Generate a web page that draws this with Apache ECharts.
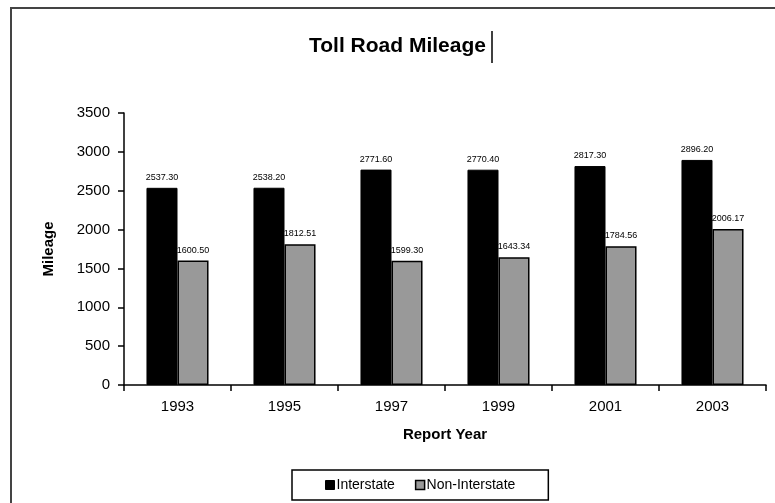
<!DOCTYPE html>
<html><head><meta charset="utf-8">
<script src="https://cdn.jsdelivr.net/npm/echarts@6/dist/echarts.min.js"></script>
<style>html,body{margin:0;padding:0;background:#fff}#c{width:775px;height:503px}</style>
</head><body><div id="c"></div>
<script>
const categories = ['1993','1995','1997','1999','2001','2003'];
const interstate = [2537.30, 2538.20, 2771.60, 2770.40, 2817.30, 2896.20];
const nonInterstate = [1600.50, 1812.51, 1599.30, 1643.34, 1784.56, 2006.17];
const yTicks = [0, 500, 1000, 1500, 2000, 2500, 3000, 3500];

const chart = echarts.init(document.getElementById('c'));
const font = 'Arial, "Liberation Sans", sans-serif';
const lbl = {show:true, position:'top', fontSize:9, color:'#000', fontFamily:font, distance:6,
  formatter: p => p.value.toFixed(2)};
chart.setOption({
  animation:false,
  title:{text:'Toll Road Mileage', left:304, top:31,
    textStyle:{fontSize:21, fontWeight:'bold', color:'#000', fontFamily:font}},
  graphic:[
    {type:'polyline', shape:{points:[[11,520],[11,8],[790,8]]}, style:{stroke:'#444', lineWidth:2, fill:null}},
    {type:'line', shape:{x1:492,y1:31,x2:492,y2:63}, style:{stroke:'#000', lineWidth:1.5}}
  ],
  legend:{bottom:3, left:292, itemWidth:9, itemHeight:9, itemGap:20, icon:'rect',
    padding:[8,33,8,33], borderColor:'#000', borderWidth:1.5,
    textStyle:{fontSize:14, color:'#000', fontFamily:font, padding:[0,0,0,-3]},
    data:[{name:'Interstate', itemStyle:{borderColor:'#000', borderWidth:1}},
          {name:'Non-Interstate', itemStyle:{borderColor:'#000', borderWidth:1.5}}]},
  grid:{left:124, right:9, top:113, bottom:118},
  xAxis:{type:'category', data:categories, name:'Report Year', nameLocation:'middle', nameGap:42,
    nameTextStyle:{fontSize:15, fontWeight:'bold', color:'#000', fontFamily:font},
    axisLine:{lineStyle:{color:'#000', width:1.5}},
    axisTick:{show:true, length:6, lineStyle:{color:'#000', width:1.5}},
    axisLabel:{fontSize:15, color:'#000', fontFamily:font, margin:14}},
  yAxis:{type:'value', min:yTicks[0], max:yTicks[yTicks.length-1], interval:500,
    name:'Mileage', nameLocation:'middle', nameGap:68, nameRotate:90,
    nameTextStyle:{fontSize:15, fontWeight:'bold', color:'#000', fontFamily:font},
    axisLine:{show:true, lineStyle:{color:'#000', width:1.5}},
    axisTick:{show:true, length:6, lineStyle:{color:'#000', width:1.5}},
    splitLine:{show:false},
    axisLabel:{fontSize:15, color:'#000', fontFamily:font, margin:14, formatter: v => String(v)}},
  series:[
    {name:'Interstate', type:'bar', data:interstate, barGap:'0%', barCategoryGap:'42%',
     itemStyle:{color:'#000', borderColor:'#000', borderWidth:1}, label:lbl},
    {name:'Non-Interstate', type:'bar', data:nonInterstate,
     itemStyle:{color:'#999', borderColor:'#000', borderWidth:1.5}, label:lbl}
  ]
});
</script></body></html>
